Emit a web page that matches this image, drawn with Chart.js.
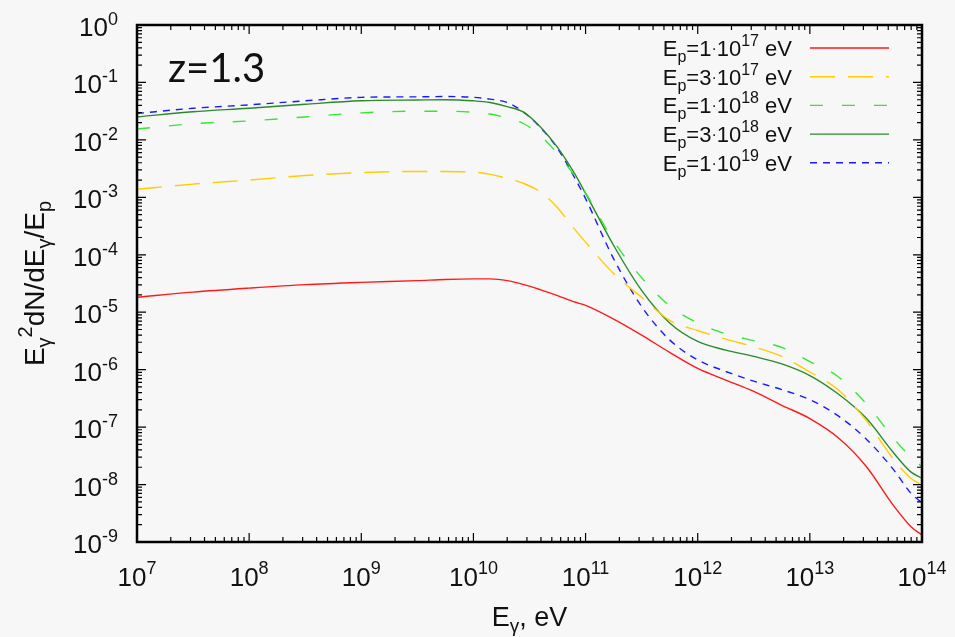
<!DOCTYPE html>
<html>
<head>
<meta charset="utf-8">
<script src="https://cdn.jsdelivr.net/npm/chart.js@4.4.1/dist/chart.umd.min.js"></script>
<style>
  html, body { margin: 0; padding: 0; background: #f7f7f7; }
  #wrap { width: 955px; height: 637px; position: relative; }
</style>
</head>
<body>
<div id="wrap"><canvas id="chartSpectrum"></canvas></div>
<script>
// photon energy, eV
const energies = [1e7, 3.16e7, 1e8, 3.16e8, 1e9, 3.16e9, 5.62e9,
  1e10, 1.41e10, 2.0e10, 2.82e10, 3.98e10, 5.62e10, 7.94e10,
  1e11, 1.78e11, 3.16e11, 5.62e11, 1e12, 1.78e12, 3.16e12, 5.62e12,
  1e13, 1.78e13, 3.16e13, 5.62e13, 7.94e13, 1e14];

// E^2 dN/dE / Ep for each proton energy
const flux1e17 = [1.82e-5, 2.24e-5, 2.63e-5, 3.02e-5, 3.31e-5, 3.55e-5, 3.72e-5,
  3.80e-5, 3.80e-5, 3.55e-5, 3.02e-5, 2.45e-5, 1.95e-5, 1.51e-5,
  1.32e-5, 7.6e-6, 4.0e-6, 2.0e-6, 1.05e-6, 6.6e-7, 4.2e-7, 2.4e-7,
  1.41e-7, 6.6e-8, 2.1e-8, 4.2e-9, 1.86e-9, 1.32e-9];
const flux3e17 = [1.38e-3, 1.70e-3, 2.0e-3, 2.4e-3, 2.69e-3, 2.82e-3, 2.82e-3,
  2.75e-3, 2.51e-3, 2.14e-3, 1.74e-3, 1.23e-3, 6.6e-4, 2.82e-4,
  1.66e-4, 4.7e-5, 1.82e-5, 7.2e-6, 4.8e-6, 3.4e-6, 2.5e-6, 1.70e-6,
  9.1e-7, 4.5e-7, 1.32e-7, 2.7e-8, 1.29e-8, 9.8e-9];
const flux1e18 = [0.0155, 0.0191, 0.0214, 0.0251, 0.0295, 0.0316, 0.0316,
  0.0302, 0.0282, 0.0240, 0.0191, 0.0117, 5.75e-3, 2.4e-3,
  1.20e-3, 1.74e-4, 4.0e-5, 1.29e-5, 6.5e-6, 4.2e-6, 3.2e-6, 2.45e-6,
  1.38e-6, 7.6e-7, 2.6e-7, 6.3e-8, 3.0e-8, 2.04e-8];
const flux3e18 = [0.0251, 0.0309, 0.0355, 0.0417, 0.0479, 0.0495, 0.0501,
  0.0479, 0.0447, 0.0380, 0.0302, 0.0166, 7.4e-3, 2.63e-3,
  1.17e-3, 1.45e-4, 2.4e-5, 6.5e-6, 3.1e-6, 2.19e-6, 1.70e-6, 1.26e-6,
  7.9e-7, 3.8e-7, 1.45e-7, 3.5e-8, 1.66e-8, 1.29e-8];
const flux1e19 = [0.0288, 0.0355, 0.0407, 0.0479, 0.055, 0.0562, 0.0569,
  0.055, 0.0513, 0.0447, 0.0302, 0.0162, 7.1e-3, 2.24e-3,
  9.5e-4, 8.5e-5, 1.26e-5, 3.3e-6, 1.48e-6, 9.3e-7, 6.3e-7, 4.5e-7,
  3.0e-7, 1.58e-7, 6.3e-8, 1.78e-8, 7.1e-9, 4.8e-9];

// legend text pieces: Ep = mantissa * 10^exponent eV
const legendMantissa = ['1', '3', '1', '3', '1'];
const legendExponent = ['17', '17', '18', '18', '19'];

// tick label powers
const xTickPowers = [7, 8, 9, 10, 11, 12, 13, 14];
const yTickPowers = [0, -1, -2, -3, -4, -5, -6, -7, -8, -9];

const FONT = '"Liberation Sans", Arial, sans-serif';

function toPoints(ys) {
  return energies.map((e, i) => ({ x: e, y: ys[i] }));
}

// draws a row of text pieces with their own size and vertical offset
function drawRich(ctx, parts, x, y, align) {
  let total = 0;
  parts.forEach(p => {
    ctx.font = p.s + 'px ' + FONT;
    p.w = ctx.measureText(p.t).width;
    total += p.w;
  });
  let cx = x;
  if (align === 'center') cx = x - total / 2;
  if (align === 'right') cx = x - total;
  ctx.textAlign = 'left';
  ctx.textBaseline = 'alphabetic';
  parts.forEach(p => {
    ctx.font = p.s + 'px ' + FONT;
    ctx.fillText(p.t, cx, y + (p.dy || 0));
    cx += p.w;
  });
}

const seriesStyles = [
  { color: '#ff1a1a', dash: [] },
  { color: '#ffcc00', dash: [25, 13] },
  { color: '#33e833', dash: [13, 19] },
  { color: '#2a8a2a', dash: [] },
  { color: '#1a1aff', dash: [7, 6] },
];

const frame = {
  id: 'frame',
  afterDraw(chart) {
    const ctx = chart.ctx;
    const a = chart.chartArea;
    const xs = chart.scales.x, ys = chart.scales.y;
    ctx.save();
    ctx.strokeStyle = '#000';
    ctx.fillStyle = '#000';

    // inward ticks on all four sides
    ctx.lineWidth = 1.2;
    ctx.beginPath();
    for (let p = 7; p <= 14; p++) {
      for (let m = 1; m <= 9; m++) {
        const v = m * Math.pow(10, p);
        if (v > 1e14) break;
        const px = xs.getPixelForValue(v);
        const len = m === 1 ? 9 : 5;
        ctx.moveTo(px, a.bottom); ctx.lineTo(px, a.bottom - len);
        ctx.moveTo(px, a.top); ctx.lineTo(px, a.top + len);
      }
    }
    for (let p = -9; p <= 0; p++) {
      for (let m = 1; m <= 9; m++) {
        const v = m * Math.pow(10, p);
        if (v > 1) break;
        const py = ys.getPixelForValue(v);
        const len = m === 1 ? 9 : 5;
        ctx.moveTo(a.left, py); ctx.lineTo(a.left + len, py);
        ctx.moveTo(a.right, py); ctx.lineTo(a.right - len, py);
      }
    }
    ctx.stroke();

    // box
    ctx.lineWidth = 2.5;
    ctx.strokeRect(a.left, a.top, a.right - a.left, a.bottom - a.top);

    // tick labels
    ctx.fillStyle = '#111';
    xTickPowers.forEach(p => {
      const px = xs.getPixelForValue(Math.pow(10, p));
      drawRich(ctx, [{ t: '10', s: 26 }, { t: String(p), s: 18, dy: -12 }], px, 586, 'center');
    });
    yTickPowers.forEach(p => {
      const py = ys.getPixelForValue(Math.pow(10, p));
      drawRich(ctx, [{ t: '10', s: 26 }, { t: String(p), s: 18, dy: -11 }], 118, py + 11, 'right');
    });

    // axis titles
    drawRich(ctx, [{ t: 'E', s: 27 }, { t: 'γ', s: 19, dy: 6 }, { t: ', eV', s: 27 }],
      (a.left + a.right) / 2, 626, 'center');
    ctx.save();
    ctx.translate(44, (a.top + a.bottom) / 2);
    ctx.rotate(-Math.PI / 2);
    drawRich(ctx, [
      { t: 'E', s: 28 }, { t: 'γ', s: 20, dy: 7 }, { t: '2', s: 20, dy: -12 },
      { t: 'dN/dE', s: 28 }, { t: 'γ', s: 20, dy: 7 },
      { t: '/E', s: 28 }, { t: 'p', s: 20, dy: 7 },
    ], 0, 0, 'center');
    ctx.restore();

    // redshift label
    ctx.font = '40px Lato, "Open Sans", sans-serif';
    ctx.textAlign = 'left';
    ctx.fillText('z=1.3', 168, 82);

    // legend
    for (let i = 0; i < legendMantissa.length; i++) {
      const cy = 48 + i * 28.7;
      drawRich(ctx, [
        { t: 'E', s: 22 }, { t: 'p', s: 16, dy: 6 },
        { t: '=' + legendMantissa[i], s: 22 }, { t: '·', s: 16, dy: -2 }, { t: '10', s: 22 },
        { t: legendExponent[i], s: 16, dy: -10 }, { t: ' eV', s: 22 },
      ], 792, cy + 8, 'right');
      const st = seriesStyles[i];
      ctx.save();
      ctx.strokeStyle = st.color;
      ctx.lineWidth = 1.4;
      ctx.setLineDash(st.dash);
      ctx.beginPath();
      ctx.moveTo(810, cy); ctx.lineTo(889, cy);
      ctx.stroke();
      ctx.restore();
    }
    ctx.restore();
  }
};

const seriesData = [flux1e17, flux3e17, flux1e18, flux3e18, flux1e19];
const ctxSpectrum = document.getElementById('chartSpectrum');
new Chart(ctxSpectrum, {
  type: 'line',
  data: {
    datasets: seriesData.map((d, i) => ({
      data: toPoints(d),
      borderColor: seriesStyles[i].color,
      borderDash: seriesStyles[i].dash,
      borderWidth: 1.4,
      pointRadius: 0,
      cubicInterpolationMode: 'monotone',
      fill: false,
    })),
  },
  options: {
    responsive: true,
    maintainAspectRatio: false,
    animation: false,
    layout: { padding: { left: 137, right: 33, top: 25, bottom: 95 } },
    plugins: { legend: { display: false }, tooltip: { enabled: false } },
    scales: {
      x: { type: 'logarithmic', min: 1e7, max: 1e14, display: false },
      y: { type: 'logarithmic', min: 1e-9, max: 1, display: false },
    },
  },
  plugins: [frame],
});
</script>
</body>
</html>
